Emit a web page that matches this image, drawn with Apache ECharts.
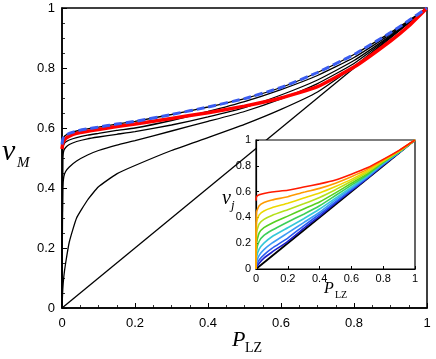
<!DOCTYPE html>
<html>
<head>
<meta charset="utf-8">
<script src="https://cdn.jsdelivr.net/npm/echarts@6/dist/echarts.min.js"></script>
<style>
  html, body { margin: 0; padding: 0; background: #fff; }
  #chart { width: 436px; height: 359px; }
</style>
</head>
<body>
<div id="chart"></div>
<script>
// main panel: x positions shared by every curve
var mainX = [0, 0.002, 0.005, 0.01, 0.02, 0.04, 0.07, 0.1, 0.15, 0.2, 0.3, 0.4, 0.5, 0.6, 0.7, 0.8, 0.9, 0.95, 1];
var diagX = [0, 1];
var diagY = [0, 1];
var curveA = [0, 0.06, 0.105, 0.15, 0.22, 0.3, 0.36, 0.404, 0.447, 0.475, 0.525, 0.568, 0.612, 0.662, 0.72, 0.805, 0.903, 0.951, 1];
var curveB = [0, 0.40, 0.438, 0.455, 0.47, 0.49, 0.51, 0.525, 0.543, 0.558, 0.59, 0.622, 0.655, 0.697, 0.748, 0.815, 0.905, 0.953, 1];
var curveC = [0, 0.50, 0.525, 0.535, 0.545, 0.555, 0.564, 0.57, 0.579, 0.588, 0.61, 0.637, 0.668, 0.71, 0.76, 0.825, 0.908, 0.954, 1];
var curveD = [0, 0.53, 0.545, 0.553, 0.56, 0.568, 0.576, 0.582, 0.592, 0.6, 0.625, 0.655, 0.688, 0.728, 0.775, 0.835, 0.913, 0.956, 1];
var curveTop = [0.545, 0.562, 0.57, 0.576, 0.582, 0.59, 0.597, 0.603, 0.613, 0.622, 0.645, 0.67, 0.698, 0.735, 0.785, 0.845, 0.918, 0.958, 1];
var curveRed = [0.53, 0.547, 0.556, 0.565, 0.573, 0.582, 0.589, 0.595, 0.605, 0.613, 0.632, 0.651, 0.673, 0.7, 0.738, 0.803, 0.89, 0.94, 1];

// inset: v_j for several j
var insetX = [0, 0.003, 0.02, 0.05, 0.1, 0.2, 0.3, 0.4, 0.5, 0.6, 0.7, 0.8, 0.9, 1];
var vRed    = [0.53, 0.56, 0.575, 0.585, 0.597, 0.61, 0.635, 0.66, 0.69, 0.735, 0.785, 0.85, 0.92, 1];
var vOrange = [0, 0.44, 0.49, 0.515, 0.535, 0.56, 0.595, 0.625, 0.665, 0.715, 0.772, 0.845, 0.917, 1];
var vYellow = [0, 0.36, 0.42, 0.45, 0.475, 0.51, 0.55, 0.59, 0.64, 0.695, 0.76, 0.84, 0.914, 1];
var vYGreen = [0, 0.28, 0.35, 0.385, 0.415, 0.46, 0.505, 0.555, 0.615, 0.68, 0.748, 0.835, 0.912, 1];
var vGreen  = [0, 0.2, 0.28, 0.32, 0.355, 0.41, 0.465, 0.52, 0.59, 0.665, 0.738, 0.83, 0.91, 1];
var vGreen2 = [0, 0.14, 0.215, 0.26, 0.3, 0.365, 0.425, 0.49, 0.57, 0.65, 0.73, 0.825, 0.908, 1];
var vSky    = [0, 0.09, 0.155, 0.2, 0.25, 0.32, 0.39, 0.465, 0.55, 0.635, 0.722, 0.82, 0.906, 1];
var vLBlue  = [0, 0.05, 0.105, 0.15, 0.2, 0.28, 0.36, 0.44, 0.535, 0.625, 0.715, 0.815, 0.905, 1];
var vBlue   = [0, 0.025, 0.07, 0.11, 0.16, 0.24, 0.335, 0.425, 0.52, 0.615, 0.708, 0.81, 0.903, 1];
var vDBlue  = [0, 0.012, 0.045, 0.085, 0.13, 0.215, 0.315, 0.41, 0.51, 0.607, 0.703, 0.805, 0.902, 1];
var insetCurves = [vDBlue, vBlue, vLBlue, vSky, vGreen2, vGreen, vYGreen, vYellow, vOrange, vRed];
var insetColors = ['#1c1cc8', '#2a5cf0', '#3d9cf5', '#35c8d8', '#3ccf5a', '#55d020', '#b5e01a', '#ecd800', '#ff9a00', '#ff1a00'];

function pairs(xs, ys) {
    var out = [];
    for (var i = 0; i < xs.length; i++) out.push([xs[i], ys[i]]);
    return out;
}

var chart = echarts.init(document.getElementById('chart'));

function valueAxis(gridIdx, size, margin, isInset) {
    return {
        type: 'value', gridIndex: gridIdx, min: 0, max: 1, interval: 0.2,
        zlevel: isInset ? 1 : 0,
        axisLine: { show: true, onZero: false, lineStyle: { color: '#000', width: isInset ? 1.2 : 1.5 } },
        axisTick: { show: true, inside: true, length: isInset ? 3 : 5, lineStyle: { color: '#000', width: 1 } },
        minorTick: { show: !isInset, splitNumber: 4, length: 3, lineStyle: { color: '#000', width: 0.8 } },
        splitLine: { show: false },
        axisLabel: { fontFamily: 'Liberation Sans', color: '#000', fontSize: size, margin: margin,
            formatter: function (v) { return String(+v.toFixed(1)); } }
    };
}

var smoothAmt = 0.15;
var series = [];
series.push({ type: 'line', xAxisIndex: 0, yAxisIndex: 0, data: pairs(diagX, diagY), symbol: 'none',
    lineStyle: { color: '#000', width: 1.3 } });
[curveA, curveB, curveC, curveD, curveTop].forEach(function (c) {
    series.push({ type: 'line', xAxisIndex: 0, yAxisIndex: 0, data: pairs(mainX, c), symbol: 'none',
        smooth: smoothAmt, lineStyle: { color: '#000', width: 1.3 } });
});
series.push({ type: 'line', xAxisIndex: 0, yAxisIndex: 0, data: pairs(mainX, curveRed), symbol: 'none',
    smooth: smoothAmt, lineStyle: { color: '#ff0000', width: 3.5 } });
series.push({ type: 'line', xAxisIndex: 0, yAxisIndex: 0, data: pairs(mainX, curveTop), symbol: 'none',
    smooth: smoothAmt, lineStyle: { color: '#3a5cf0', width: 3, type: [8, 4] } });

// inset
series.push({ type: 'line', xAxisIndex: 1, yAxisIndex: 1, zlevel: 1, data: pairs(diagX, diagY), symbol: 'none',
    lineStyle: { color: '#000', width: 1.8 } });
insetCurves.forEach(function (c, i) {
    series.push({ type: 'line', xAxisIndex: 1, yAxisIndex: 1, zlevel: 1, data: pairs(insetX, c), symbol: 'none',
        smooth: smoothAmt, lineStyle: { color: insetColors[i], width: 1.6 } });
});

function label(txt, x, y, font) {
    return { type: 'text', zlevel: 1, style: { text: txt, x: x, y: y, font: font, fill: '#000', align: 'left', verticalAlign: 'middle' } };
}

var option = {
    animation: false,
    backgroundColor: '#fff',
    grid: [
        { left: 62, right: 9, top: 8, bottom: 51, show: true, borderColor: '#000', borderWidth: 1.5, backgroundColor: 'transparent' },
        { left: 256, right: 21, top: 140, bottom: 90, show: true, borderColor: '#000', borderWidth: 1.2, backgroundColor: '#fff', zlevel: 1 }
    ],
    xAxis: [valueAxis(0, 13, 9, false), valueAxis(1, 11, 4, true)],
    yAxis: [valueAxis(0, 13, 7, false), valueAxis(1, 11, 5, true)],
    series: series,
    graphic: [
        label('v', 2, 152, 'italic 30px "Liberation Serif"'),
        label('M', 17, 163, 'italic 15px "Liberation Serif"'),
        label('P', 232, 340, 'italic 22px "Liberation Serif"'),
        label('LZ', 245, 348, '14px "Liberation Serif"'),
        label('v', 222, 199, 'italic 20px "Liberation Serif"'),
        label('j', 231, 206, 'italic 13px "Liberation Serif"'),
        label('P', 324, 289, 'italic 16px "Liberation Serif"'),
        label('LZ', 335, 295, '10px "Liberation Serif"')
    ]
};
chart.setOption(option);
</script>
</body>
</html>
